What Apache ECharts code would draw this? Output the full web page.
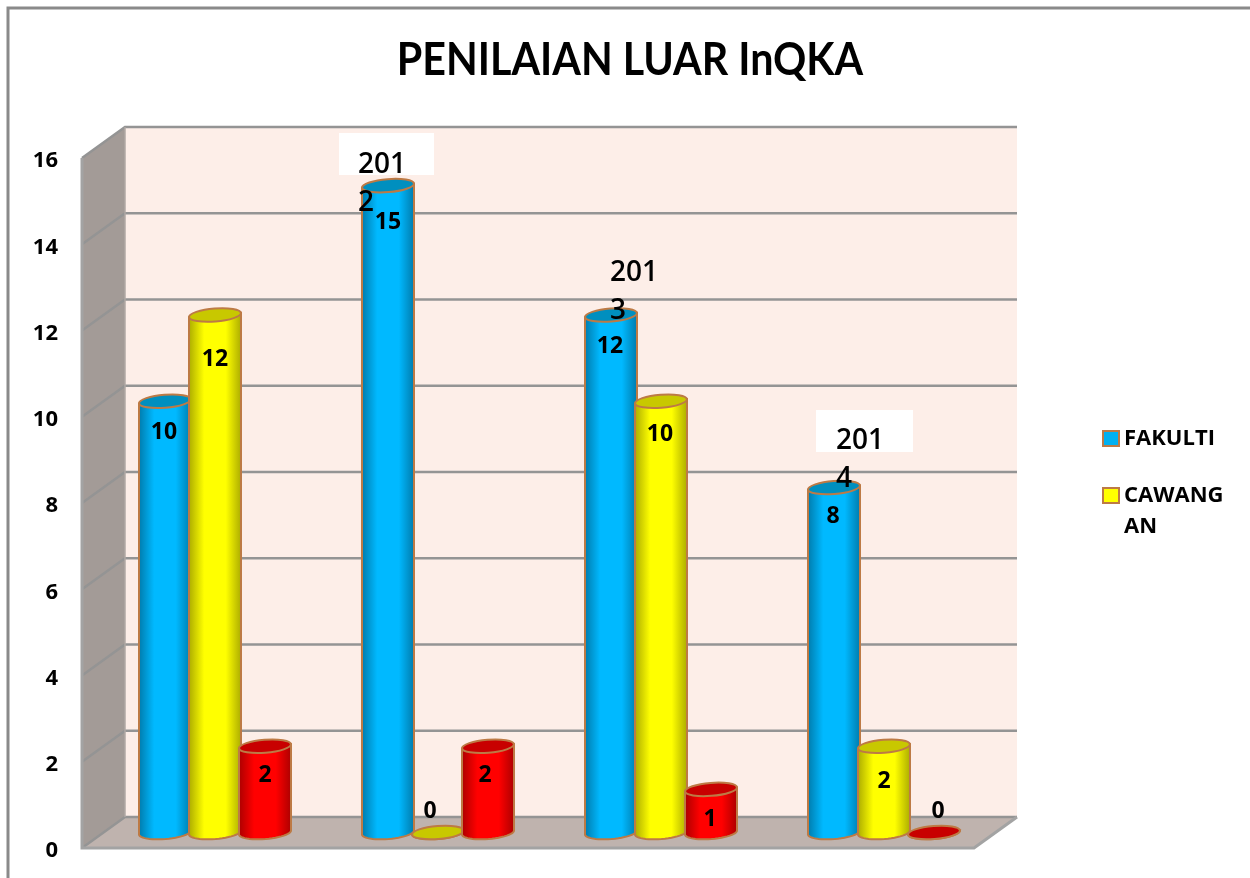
<!DOCTYPE html>
<html>
<head>
<meta charset="utf-8">
<title>PENILAIAN LUAR InQKA</title>
<script src="https://cdn.jsdelivr.net/npm/echarts@6/dist/echarts.min.js"></script>
<style>
    html, body { margin: 0; padding: 0; background: #fff; }
    #chart { width: 1250px; height: 878px; }
</style>
</head>
<body>
<div id="chart"></div>
<script>
// data
const chartTitle = 'PENILAIAN LUAR InQKA';
const years = ['2011', '2012', '2013', '2014'];
const fakulti = [10, 15, 12, 8];
const cawangan = [12, 0, 10, 2];
const lain = [2, 2, 1, 0];
const yTicks = [0, 2, 4, 6, 8, 10, 12, 14, 16];

// fake 3d box: how far the back wall sits from the front plane
const depthX = 43;
const depthY = -31;
const edge = '#bd7a45';
const fontName = '"Open Sans", sans-serif';

// label nudges from the top of each cylinder [dx, dy], excel placed them unevenly
const fakultiNudge = [[-1, 31], [0, 37], [-1, 31], [-1, 29]];
const cawanganNudge = [[0, 44], [-8, -21], [-1, 33], [0, 35]];
const lainNudge = [[0, 29], [-3, 29], [-1, 30], [4, -21]];

const chart = echarts.init(document.getElementById('chart'));

function sceneItem(params, api) {
    const c = params.coordSys;
    const left = c.x, right = c.x + c.width;
    const front0 = api.coord([0, 0])[1];
    const frontTop = api.coord([0, 16])[1];
    const kids = [];
    // back wall
    kids.push({ type: 'rect', shape: { x: left + depthX, y: frontTop + depthY, width: c.width, height: front0 - frontTop }, style: { fill: '#fdeee8' } });
    // left wall
    kids.push({ type: 'polygon', shape: { points: [[left, frontTop], [left + depthX, frontTop + depthY], [left + depthX, front0 + depthY], [left, front0]] }, style: { fill: '#a39b97' } });
    // floor
    kids.push({ type: 'polygon', shape: { points: [[left, front0], [left + depthX, front0 + depthY], [right + depthX, front0 + depthY], [right, front0]] }, style: { fill: '#bfb3ae' } });
    yTicks.forEach(function (t) {
        const y = api.coord([0, t])[1];
        kids.push({ type: 'polyline', shape: { points: [[left, y], [left + depthX, y + depthY], [right + depthX, y + depthY]] }, style: { fill: 'none', stroke: '#949494', lineWidth: 2.5 } });
    });
    kids.push({ type: 'line', shape: { x1: left + depthX, y1: frontTop + depthY, x2: left + depthX, y2: front0 + depthY }, style: { stroke: '#b0a8a4', lineWidth: 1.5 } });
    // front edge of the floor
    kids.push({ type: 'polyline', shape: { points: [[left, frontTop], [left, front0], [right, front0], [right + depthX, front0 + depthY]] }, style: { fill: 'none', stroke: '#a3a3a3', lineWidth: 3 } });
    return { type: 'group', children: kids };
}

// one cylinder, stands half way into the box
function cylinder(shift, dark, bright, topColor, nudges) {
    return function (params, api) {
        const i = api.value(0);
        const val = api.value(1);
        const top = api.coord([i, val]);
        const bottom = api.coord([i, 0]);
        const cx = top[0] + shift + depthX / 2;
        const yTop = top[1] + depthY / 2;
        const yBot = bottom[1] + depthY / 2;
        const rx = 26, ry = 6.5, tilt = 0.08;
        const pts = [[cx - rx, yTop + rx * tilt]];
        for (let k = 0; k <= 24; k++) {
            const a = Math.PI - Math.PI * k / 24;
            const ex = rx * Math.cos(a), ey = ry * Math.sin(a);
            pts.push([cx + ex + ey * tilt, yBot + ey - ex * tilt]);
        }
        pts.push([cx + rx, yTop - rx * tilt]);
        const nudge = nudges[i];
        return {
            type: 'group',
            children: [
                {
                    type: 'polygon',
                    shape: { points: pts },
                    style: {
                        stroke: edge,
                        lineWidth: 2,
                        fill: new echarts.graphic.LinearGradient(0, 0, 1, 0, [
                            { offset: 0, color: dark },
                            { offset: 0.3, color: bright },
                            { offset: 0.7, color: bright },
                            { offset: 1, color: dark }
                        ])
                    }
                },
                {
                    type: 'ellipse',
                    x: cx,
                    y: yTop,
                    rotation: tilt,
                    shape: { cx: 0, cy: 0, rx: rx, ry: ry },
                    style: { fill: topColor, stroke: edge, lineWidth: 2 }
                },
                {
                    type: 'text',
                    style: {
                        text: String(val),
                        x: cx + nudge[0],
                        y: yTop + nudge[1],
                        align: 'center',
                        verticalAlign: 'middle',
                        fill: '#000',
                        font: 'bold 23px ' + fontName
                    }
                }
            ]
        };
    };
}

function toPairs(arr) {
    return arr.map(function (v, i) { return [i, v]; });
}

// the year text boxes are wrapped too narrow in the original, 2011 has none
const yearBoxes = [null, { x: 358, y: 146, box: [339, 133, 95, 42] }, { x: 610, y: 254 }, { x: 836, y: 422, box: [816, 410, 97, 42] }];
const yearGraphics = [];
years.forEach(function (y, i) {
    const b = yearBoxes[i];
    if (!b) return;
    if (b.box) {
        yearGraphics.push({ type: 'rect', z: 90, shape: { x: b.box[0], y: b.box[1], width: b.box[2], height: b.box[3] }, style: { fill: '#fff' } });
    }
    yearGraphics.push({
        type: 'text', z: 100, x: b.x, y: b.y,
        style: { text: y.slice(0, 3) + '\n' + y.slice(3), fill: '#000', font: '600 28px ' + fontName, lineHeight: 38 }
    });
});

const option = {
    animation: false,
    backgroundColor: '#fff',
    legend: [
        {
            orient: 'vertical', left: 1097, top: 418, data: ['FAKULTI'],
            icon: 'rect', itemWidth: 16, itemHeight: 15, itemGap: 0,
            textStyle: { fontFamily: fontName, fontWeight: 'bold', fontSize: 22, color: '#000', lineHeight: 31 }
        },
        {
            orient: 'vertical', left: 1097, top: 444, data: ['CAWANGAN'],
            icon: 'rect', itemWidth: 16, itemHeight: 15, itemGap: 0,
            formatter: function () { return '\nCAWANG\nAN'; },
            textStyle: { fontFamily: fontName, fontWeight: 'bold', fontSize: 22, color: '#000', lineHeight: 31 }
        }
    ],
    grid: { left: 82, right: 276, top: 158, bottom: 30 },
    xAxis: { type: 'category', data: years, show: false },
    yAxis: {
        type: 'value', min: 0, max: 16, interval: 2,
        axisLine: { show: false }, axisTick: { show: false }, splitLine: { show: false },
        axisLabel: {
            margin: 24,
            formatter: '{t|{value}}',
            // top padding pushes the numbers a bit below their gridline like the original
            rich: { t: { color: '#000', fontFamily: fontName, fontWeight: 'bold', fontSize: 22, padding: [6, 0, 0, 0] } }
        }
    },
    graphic: [
        { type: 'polyline', z: 100, shape: { points: [[8, 878], [8, 8], [1250, 8]] }, style: { fill: 'none', stroke: '#8a8a8a', lineWidth: 3 } },
        // title font is condensed in the original, no such font here so squeeze Lato
        {
            type: 'text', z: 100, x: 630, y: 60, scaleX: 0.896,
            style: { text: chartTitle, align: 'center', verticalAlign: 'middle', fill: '#000', font: 'bold 46px Lato, sans-serif' }
        }
    ].concat(yearGraphics),
    series: [
        { name: 'box', type: 'custom', z: 1, silent: true, clip: false, renderItem: sceneItem, data: [[0, 0]] },
        {
            name: 'FAKULTI', type: 'custom', z: 3, clip: false, data: toPairs(fakulti),
            itemStyle: { color: '#00b0f0', borderColor: edge, borderWidth: 2 },
            renderItem: cylinder(-50, '#0078a8', '#00b9ff', '#008fbf', fakultiNudge)
        },
        {
            name: 'CAWANGAN', type: 'custom', z: 4, clip: false, data: toPairs(cawangan),
            itemStyle: { color: '#ffff00', borderColor: edge, borderWidth: 2 },
            renderItem: cylinder(0, '#a8a800', '#ffff00', '#c8c800', cawanganNudge)
        },
        {
            name: 'LAIN', type: 'custom', z: 5, clip: false, data: toPairs(lain),
            itemStyle: { color: '#ff0000', borderColor: edge, borderWidth: 2 },
            renderItem: cylinder(50, '#a80000', '#ff0000', '#c80000', lainNudge)
        }
    ]
};
chart.setOption(option);
</script>
</body>
</html>
